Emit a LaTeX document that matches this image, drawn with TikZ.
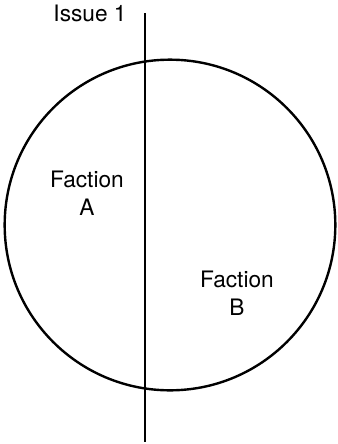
\documentclass[tikz,border=0pt]{standalone}
\usepackage{fontspec}
\setmainfont{TeX Gyre Heros}
\usetikzlibrary{positioning}

\begin{document}
\begin{tikzpicture}[
  x=0.75pt, y=-0.75pt,
  font=\fontsize{17}{20.3}\selectfont,
  group/.style ={circle, draw=black, line width=1.8pt, minimum size=248pt, inner sep=0pt},
  axis/.style  ={draw=black, line width=1.8pt},
  label/.style ={align=center, inner sep=0pt},
]
\useasboundingbox (0,0) rectangle (337,444);

% ---------------- the group ----------------
\node[group] (grp) at (170,225) {};

% ---------------- issue line ----------------
\coordinate (top) at (145,13);
\coordinate (bot) at (145,442);
\draw[axis] (top) -- (bot);
\node[label, anchor=base] (issue) at (90,21) {Issue 1};

% ---------------- factions ----------------
\node[label, anchor=base] (fa) at (87,215) {Faction\\A};
\node[label, anchor=base] (fb) at (237,315) {Faction\\B};

\end{tikzpicture}
\end{document}
